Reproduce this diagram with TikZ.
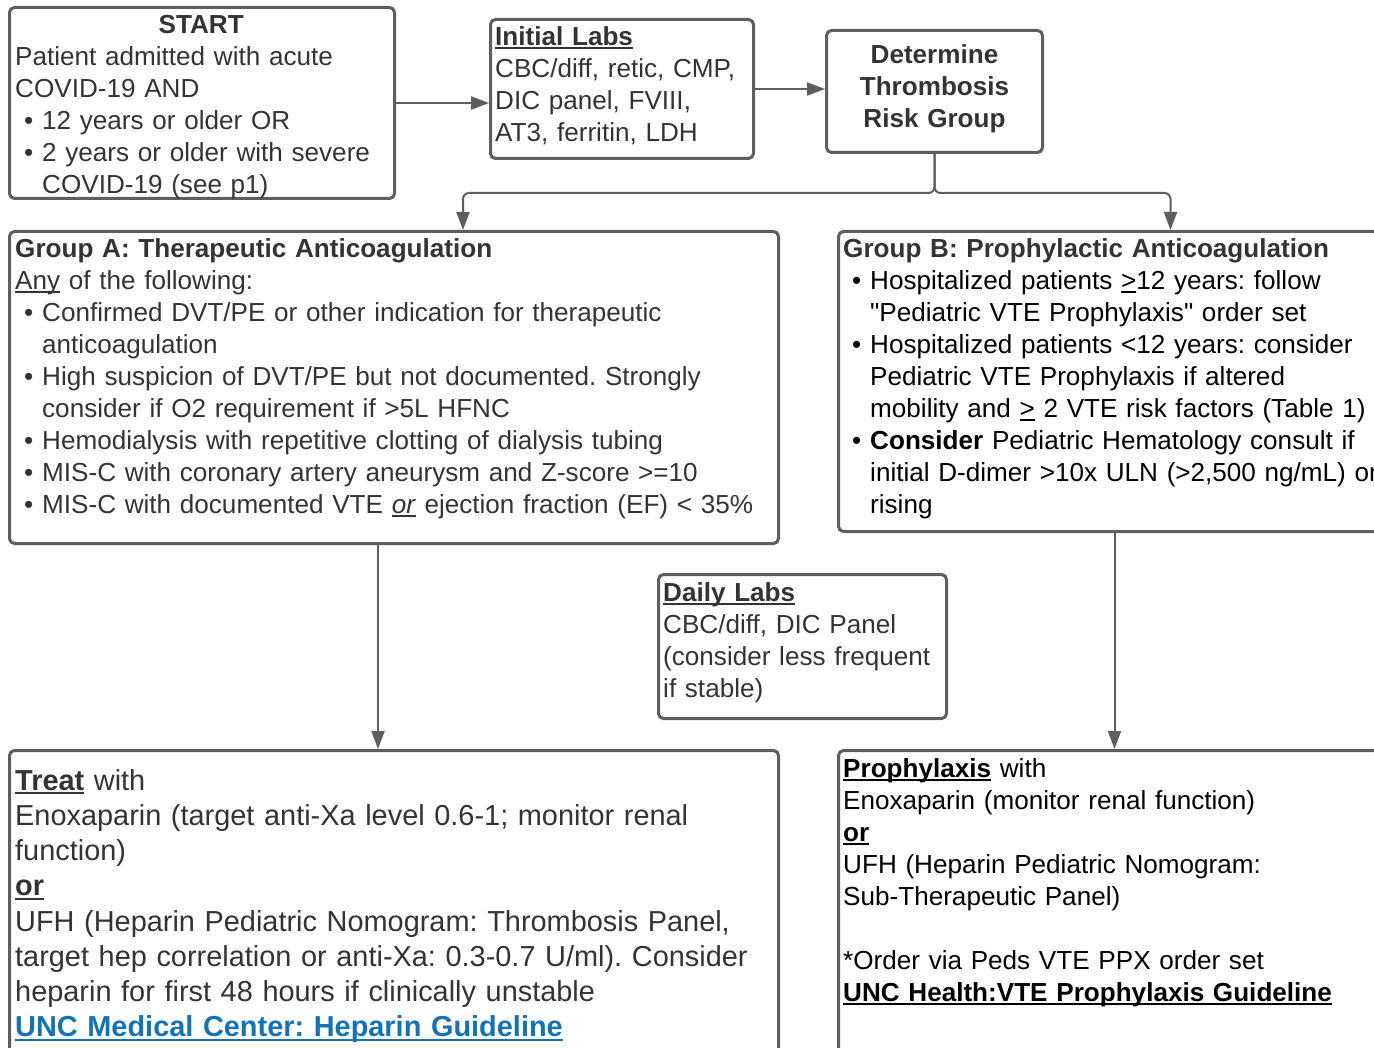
\documentclass[tikz,border=0pt]{standalone}
\usepackage{fontspec}
\setmainfont{Liberation Sans}
\usetikzlibrary{arrows.meta}
\definecolor{trait}{HTML}{5E5E5E}
\definecolor{encre}{HTML}{333333}
\definecolor{lien}{HTML}{1273B7}
\newsavebox{\soubox}
\newcommand{\puce}{\par\hangindent=27pt\hangafter=1\noindent\makebox[27pt]{\textbullet}}
\newcommand{\sou}[1]{\leavevmode\sbox{\soubox}{#1}\rlap{\rule[-4pt]{\wd\soubox}{1.8pt}}\usebox{\soubox}}
\frenchspacing

\begin{document}
\begin{tikzpicture}[x=1pt,y=-1pt]
\tikzset{boite/.style={draw=trait, line width=3pt, rounded corners=5pt, inner sep=0pt, anchor=north west},
  texte/.style={anchor=north west, inner sep=0pt, text width=#1, align=left, text=encre,
    font=\fontsize{26.1}{32}\selectfont, execute at begin node=\parindent0pt},
  texte/.default=760pt,
  fleche/.style={draw=trait, line width=2pt, -{Triangle[length=18pt,width=13pt]}}}
\useasboundingbox (0,0) rectangle (1374,1048);
\clip (0,0) rectangle (1374,1048);
% boxes
\node[boite, minimum width=385, minimum height=191] (start) at (8,6) {};
\node[boite, minimum width=263, minimum height=139] (labs) at (489,18) {};
\node[boite, minimum width=216, minimum height=122] (risk) at (825,29) {};
\node[boite, minimum width=769, minimum height=312] (groupA) at (8,230) {};
\node[boite, minimum width=664, minimum height=300] (groupB) at (837,230) {};
\node[boite, minimum width=288, minimum height=144] (daily) at (657,573) {};
\node[boite, minimum width=769, minimum height=330] (treat) at (8,749) {};
\node[boite, minimum width=664, minimum height=330] (proph) at (837,749) {};
% texts
\node[texte=372pt] (startT) at ([shift={(7,4.6)}]start.north west)
  {\makebox[\linewidth]{\strut\textbf{START}}\par
   Patient admitted with acute\newline COVID-19 AND
   \puce 12 years or older OR
   \puce 2 years or older with severe\newline COVID-19 (see p1)\par};
\node[texte=250pt] (labsT) at ([shift={(6,4.6)}]labs.north west)
  {\strut\sou{\textbf{Initial Labs}}\par CBC/diff, retic, CMP,\par DIC panel, FVIII,\par AT3, ferritin, LDH\par};
\node[texte=210pt, anchor=north, align=center] (riskT) at ([yshift=-11.6]risk.north)
  {\strut\textbf{Determine}\\\textbf{Thrombosis}\\\textbf{Risk Group}};
\node[texte] (groupAT) at ([shift={(7,4.6)}]groupA.north west)
  {\strut\textbf{Group A: Therapeutic Anticoagulation}\par
   \sou{Any} of the following:
   \puce Confirmed DVT/PE or other indication for therapeutic\newline anticoagulation
   \puce High suspicion of DVT/PE but not documented. Strongly\newline consider if O2 requirement if >5L HFNC
   \puce Hemodialysis with repetitive clotting of dialysis tubing
   \puce MIS-C with coronary artery aneurysm and Z-score >=10
   \puce MIS-C with documented VTE \sou{\textit{or}} ejection fraction (EF) < 35\%\par};
\node[texte, text=black] (groupBT) at ([shift={(6,4.6)}]groupB.north west)
  {\strut\textcolor{encre}{\textbf{Group B: Prophylactic Anticoagulation}}
   \puce Hospitalized patients \sou{>}12 years: follow\newline \textquotedbl Pediatric VTE Prophylaxis\textquotedbl{} order set
   \puce Hospitalized patients <12 years: consider\newline Pediatric VTE Prophylaxis if altered\newline mobility and \sou{>} 2 VTE risk factors (Table 1)
   \puce \textbf{Consider} Pediatric Hematology consult if\newline initial D-dimer >10x ULN (>2,500 ng/mL) or\newline rising\par};
\node[texte=280pt] (dailyT) at ([shift={(6,5.6)}]daily.north west)
  {\strut\sou{\textbf{Daily Labs}}\par CBC/diff, DIC Panel\par (consider less frequent\newline if stable)\par};
\node[texte, font=\fontsize{28.9}{35.2}\selectfont] (treatT) at ([shift={(7,16.4)}]treat.north west)
  {\strut\sou{\textbf{Treat}} with\par
   Enoxaparin (target anti-Xa level 0.6-1; monitor renal\newline function)\par
   \sou{\textbf{or}}\par
   UFH (Heparin Pediatric Nomogram: Thrombosis Panel,\newline target hep correlation or anti-Xa: 0.3-0.7 U/ml). Consider\newline heparin for first 48 hours if clinically unstable\par
   \textcolor{lien}{\sou{\textbf{UNC Medical Center: Heparin Guideline}}}\par};
\node[texte, text=black] (prophT) at ([shift={(6,5.6)}]proph.north west)
  {\strut\sou{\textbf{Prophylaxis}} with\par
   Enoxaparin (monitor renal function)\par
   \sou{\textbf{or}}\par
   UFH (Heparin Pediatric Nomogram:\newline Sub-Therapeutic Panel)\par
   \strut\par
   *Order via Peds VTE PPX order set\par
   \sou{\textbf{UNC Health:VTE Prophylaxis Guideline}}\par};
% arrows
\draw[fleche] (start.east) -- (start.east -| labs.west);
\draw[fleche] (labs.east) -- (labs.east -| risk.west);
\draw[fleche, rounded corners=6pt] (risk.south) -- ++(0,39) -| ([xshift=69]groupA.north);
\draw[fleche, rounded corners=6pt] (risk.south) -- ++(0,39) -| (groupB.north);
\draw[fleche] ([xshift=-16]groupA.south) -- ([xshift=-16]treat.north);
\draw[fleche] ([xshift=-56]groupB.south) -- ([xshift=-56]proph.north);
\end{tikzpicture}
\end{document}
